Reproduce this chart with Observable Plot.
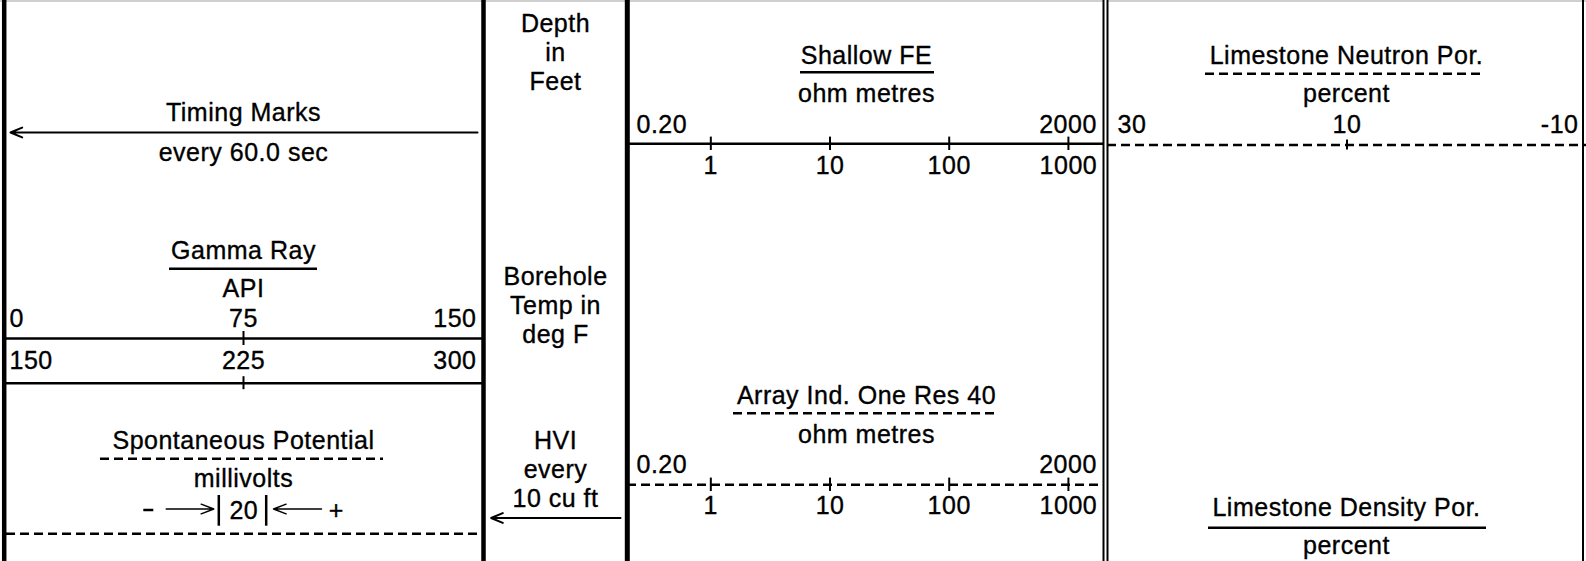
<!DOCTYPE html>
<html>
<head>
<meta charset="utf-8">
<script src="https://cdn.jsdelivr.net/npm/d3@7"></script>
<script src="https://cdn.jsdelivr.net/npm/@observablehq/plot@0.6"></script>
<style>
  html, body { margin: 0; padding: 0; background: #fff; }
  #chart { position: relative; width: 1586px; height: 561px; overflow: hidden; background: #fff; }
  #chart svg { position: absolute; top: 0; }
</style>
</head>
<body>
<div id="chart"></div>
<script>
const grTopScale = [0, 75, 150];          // Gamma Ray, first scale (API)
const grBottomScale = [150, 225, 300];    // Gamma Ray, backup scale (API)
const resistivityDomain = [0.2, 2000];    // ohm metres, logarithmic
const resistivityTicks = [1, 10, 100, 1000];
const resistivityEndLabels = ["0.20", "2000"];
const neutronScale = [30, 10, -10];       // percent
const spDivision = ["20"];                // millivolts per division
const timingLabels = ["Timing Marks", "every 60.0 sec"];
const gammaLabels = ["Gamma Ray", "API"];
const spLabels = ["Spontaneous Potential", "millivolts"];
const spSigns = ["−", "+"];
const depthLabels = ["Depth", "in", "Feet"];
const tempLabels = ["Borehole", "Temp in", "deg F"];
const hviLabels = ["HVI", "every", "10 cu ft"];
const shallowLabels = ["Shallow FE", "ohm metres"];
const deepLabels = ["Array Ind. One Res 40", "ohm metres"];
const neutronLabels = ["Limestone Neutron Por.", "percent"];
const densityLabels = ["Limestone Density Por.", "percent"];

// ---------------- layout & style ----------------
const W = 1586, H = 561, FS = 25;
const FONT = "'Liberation Sans', Arial, Helvetica, sans-serif";
const STYLE = `background: transparent; overflow: visible; font-family: ${FONT}; letter-spacing: 0.5px; max-width: none;`;
const mid = b => b - 0.32 * FS; // baseline -> middle-anchored y
const txt = {fontSize: FS, fontFamily: FONT, fill: "black", stroke: "black", strokeWidth: 0.35};
const DASH = "9,5";
const chart = document.getElementById("chart");

// one horizontal scale row drawn with its own Plot x scale
function scaleRow({range: [r0, r1], type = "linear", domain, lineY, dash, ticks, tickLen, tickLabelY, endLabels, endY, padL, padR}) {
  const ends = [
    {v: domain[0], label: endLabels[0]},
    {v: domain[1], label: endLabels[1]}
  ];
  const marks = [
    Plot.ruleY([lineY], {y: d => d, stroke: "black", strokeWidth: 2.5, strokeDasharray: dash}),
    Plot.ruleX(ticks, {x: d => d, y1: lineY - tickLen, y2: lineY + tickLen, stroke: "black", strokeWidth: 2}),
    Plot.text(ticks, {x: d => d, y: mid(tickLabelY), text: d => String(d), textAnchor: "middle", ...txt}),
    Plot.text([ends[0]], {x: "v", y: mid(endY), text: "label", textAnchor: "start", dx: padL, ...txt}),
    Plot.text([ends[1]], {x: "v", y: mid(endY), text: "label", textAnchor: "end", dx: -padR, ...txt})
  ];
  const svg = Plot.plot({
    width: r1 - r0, height: H, margin: 0, style: STYLE,
    x: {type, domain, range: [0, r1 - r0], axis: null},
    y: {type: "identity", axis: null},
    marks
  });
  svg.style.left = r0 + "px";
  chart.appendChild(svg);
}

// Track 1: Gamma Ray scales
scaleRow({range: [4, 482], domain: [grTopScale[0], grTopScale[2]], lineY: 338, ticks: [grTopScale[1]], tickLen: 7,
  tickLabelY: 326, endLabels: [grTopScale[0], grTopScale[2]].map(String), endY: 326, padL: 5, padR: 6});
scaleRow({range: [4, 482], domain: [grBottomScale[0], grBottomScale[2]], lineY: 382.7, ticks: [grBottomScale[1]], tickLen: 6.5,
  tickLabelY: 368, endLabels: [grBottomScale[0], grBottomScale[2]].map(String), endY: 368, padL: 5, padR: 6});
// Track 2: resistivity scales (log)
scaleRow({range: [627.4, 1104.2], type: "log", domain: resistivityDomain, lineY: 143.3, ticks: resistivityTicks, tickLen: 6.7,
  tickLabelY: 173.3, endLabels: resistivityEndLabels, endY: 132.7, padL: 9, padR: 7.5});
scaleRow({range: [627.4, 1104.2], type: "log", domain: resistivityDomain, lineY: 484.3, dash: DASH, ticks: resistivityTicks, tickLen: 6.7,
  tickLabelY: 513.3, endLabels: resistivityEndLabels, endY: 472.3, padL: 9, padR: 7.5});
// Track 3: neutron porosity
scaleRow({range: [1107, 1586], domain: [neutronScale[0], neutronScale[2]], lineY: 144.5, dash: DASH, ticks: [neutronScale[1]], tickLen: 5,
  tickLabelY: 132.7, endLabels: [neutronScale[0], neutronScale[2]].map(String), endY: 132.7, padL: 10, padR: 8});

// ---------------- frame, titles and symbols (identity layout) ----------------
const borders = [
  {x: 3.7, w: 4.5}, {x: 483, w: 4.5}, {x: 626.8, w: 5}, {x: 1582.5, w: 2}
];
const texts = [
  {x: 243, y: 120.7, t: timingLabels[0]}, {x: 243, y: 160.7, t: timingLabels[1]},
  {x: 243, y: 258.3, t: gammaLabels[0]}, {x: 243, y: 296.7, t: gammaLabels[1]},
  {x: 243, y: 448.3, t: spLabels[0]}, {x: 243, y: 486, t: spLabels[1]},
  {x: 243.3, y: 518.3, t: spDivision[0]}, {x: 335.8, y: 518.3, t: spSigns[1]},
  ...depthLabels.map((t, i) => ({x: 555, y: 31 + 29 * i, t})),
  ...tempLabels.map((t, i) => ({x: 555, y: 284 + 29 * i, t})),
  ...hviLabels.map((t, i) => ({x: 555, y: 448.5 + 29 * i, t})),
  {x: 866, y: 63.3, t: shallowLabels[0]}, {x: 866, y: 101.5, t: shallowLabels[1]},
  {x: 866, y: 403.3, t: deepLabels[0]}, {x: 866, y: 442.7, t: deepLabels[1]},
  {x: 1346, y: 63.3, t: neutronLabels[0]}, {x: 1346, y: 101.5, t: neutronLabels[1]},
  {x: 1346, y: 515.7, t: densityLabels[0]}, {x: 1346, y: 553.3, t: densityLabels[1]}
];
const solidLines = [
  {y: 268.3, x1: 169, x2: 317},   // Gamma Ray
  {y: 71.7, x1: 800, x2: 934},    // Shallow FE
  {y: 527.3, x1: 1208, x2: 1486}, // Density
  {y: 509.5, x1: 143.3, x2: 153.3} // SP minus sign
];
const dashedLines = [
  {y: 458.3, x1: 100, x2: 383},   // SP
  {y: 412.7, x1: 733, x2: 997},   // Array Ind.
  {y: 73.3, x1: 1205, x2: 1482},  // Neutron
  {y: 533.3, x1: 6, x2: 481}      // SP scale line
];
const bigArrows = [
  {x1: 477, y1: 132, x2: 10, y2: 132},     // timing marks
  {x1: 620, y1: 517.5, x2: 490.6, y2: 517.5} // HVI
];
const spArrows = [
  {x1: 165.7, y1: 508.5, x2: 213.3, y2: 508.5},
  {x1: 321, y1: 508.5, x2: 273, y2: 508.5}
];
const spBars = [{x: 218.3}, {x: 265.7}];

const frame = Plot.plot({
  width: W, height: H, margin: 0, style: STYLE,
  x: {type: "identity", axis: null},
  y: {type: "identity", axis: null},
  marks: [
    Plot.ruleY([0.5], {y: d => d, stroke: "#a0a0a0", strokeWidth: 1}),
    Plot.ruleX(borders, {x: "x", strokeWidth: "w", stroke: "black"}),
    Plot.ruleX([1105], {x: d => d, stroke: "black", strokeWidth: 6}),
    Plot.ruleX([1105], {x: d => d, stroke: "white", strokeWidth: 2}),
    Plot.ruleY(solidLines, {y: "y", x1: "x1", x2: "x2", stroke: "black", strokeWidth: 2.5}),
    Plot.ruleY(dashedLines, {y: "y", x1: "x1", x2: "x2", stroke: "black", strokeWidth: 2.5, strokeDasharray: DASH}),
    Plot.arrow(bigArrows, {x1: "x1", y1: "y1", x2: "x2", y2: "y2", stroke: "black", strokeWidth: 2, headLength: 9.5, headAngle: 46}),
    Plot.arrow(spArrows, {x1: "x1", y1: "y1", x2: "x2", y2: "y2", stroke: "black", strokeWidth: 1.5, headLength: 13.5, headAngle: 42}),
    Plot.ruleX(spBars, {x: "x", y1: 495, y2: 525.7, stroke: "black", strokeWidth: 2.5}),
    Plot.text(texts, {x: "x", y: d => mid(d.y), text: "t", textAnchor: "middle", ...txt})
  ]
});
frame.style.left = "0px";
chart.appendChild(frame);
</script>
</body>
</html>
